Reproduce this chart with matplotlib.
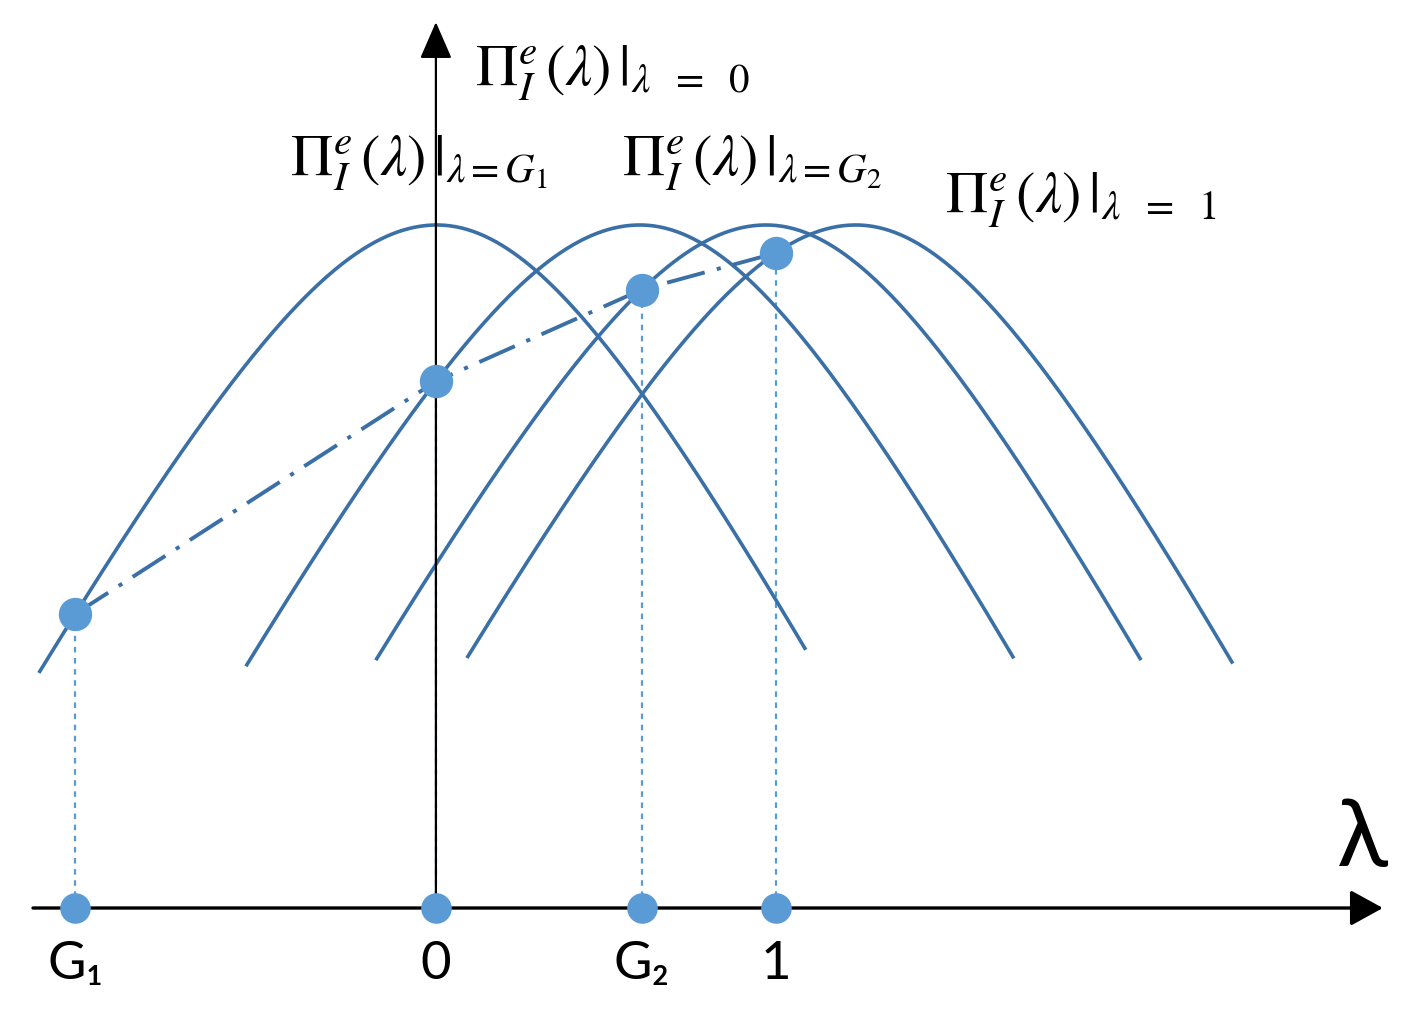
import numpy as np
import matplotlib.pyplot as plt

plt.rcParams['mathtext.fontset'] = 'stix'
plt.rcParams['lines.scale_dashes'] = False

# four payoff curves: peak position (lambda) and where each curve is cut off
peaks = [0.003, 0.600, 0.971, 1.235]
left_ends = [-1.165, -0.556, -0.174, 0.094]
right_ends = [1.085, 1.697, 2.071, 2.341]
peak_height = 1.0
drop_scale = 0.534
width_left = 0.588
width_right = 0.565

# marked lambda values, one per curve
point_lams = [-1.06, 0.0, 0.606, 1.0]
point_names = ['G\u2081', '0', 'G\u2082', '1']

curve_texts = [r'$\Pi_I^{e}\,(\lambda)\,|_{\lambda\ \ =\ \ 0}$',
               r'$\Pi_I^{e}\,(\lambda)\,|_{\lambda=G_1}$',
               r'$\Pi_I^{e}\,(\lambda)\,|_{\lambda=G_2}$',
               r'$\Pi_I^{e}\,(\lambda)\,|_{\lambda\ \ =\ \ 1}$']
curve_text_pos = [(0.115, 1.205), (-0.429, 1.073), (0.547, 1.073), (1.497, 1.019)]

curve_color = '#3b70a6'
dot_color = '#5b9bd5'


def curve(x, c):
    b = np.where(x < c, width_left, width_right)
    return peak_height - drop_scale * (np.sqrt(1 + ((x - c) / b) ** 2) - 1)


fig = plt.figure(figsize=(14.07, 10.30), dpi=100)
ax = fig.add_axes([0, 0, 1, 1])
ax.set_xlim(-1.282, 2.856)
ax.set_ylim(-0.1786, 1.3294)
ax.axis('off')

for c, lo, hi in zip(peaks, left_ends, right_ends):
    xs = np.linspace(lo, hi, 400)
    ax.plot(xs, curve(xs, c), color=curve_color, lw=2.6, zorder=3)

pts_y = [float(curve(np.array(x), c)) for x, c in zip(point_lams, peaks)]

# dashed drop lines to the axis
for x, y in zip(point_lams, pts_y):
    ax.plot([x, x], [0, y], color=dot_color, lw=1.6, dashes=(4, 4), zorder=2)

# axes with arrows
ax.annotate('', xy=(2.785, 0), xytext=(-1.185, 0),
            arrowprops=dict(arrowstyle='-|>,head_length=1.0,head_width=0.55',
                            mutation_scale=20, lw=2.4, color='#4a4a4a',
                            fc='black', ec='black', shrinkA=0, shrinkB=0), zorder=4)
ax.annotate('', xy=(0, 1.297), xytext=(0, 0),
            arrowprops=dict(arrowstyle='-|>,head_length=1.15,head_width=0.5',
                            mutation_scale=20, lw=1.6, color='black',
                            shrinkA=0, shrinkB=0), zorder=4)

# dash-dot path through the marked points
ax.plot(point_lams, pts_y, color=curve_color, lw=2.8,
        dashes=(28, 9, 3, 9), zorder=5)

ax.plot(point_lams, pts_y, 'o', ms=23, color=dot_color, zorder=6)
ax.plot(point_lams, [0] * 4, 'o', ms=21, color=dot_color, zorder=6)

for x, name in zip(point_lams, point_names):
    ax.text(x, -0.083, name, ha='center', va='center', fontsize=38,
            family=['Lato', 'DejaVu Sans'])

for (tx, ty), t in zip(curve_text_pos, curve_texts):
    ax.text(tx, ty, t, ha='left', va='baseline', fontsize=42)

ax.text(2.725, 0.10, '\u03bb', ha='center', va='center', fontsize=68,
        family=['Lato', 'DejaVu Serif'])

fig.savefig('out.png', dpi=100)
plt.close()
